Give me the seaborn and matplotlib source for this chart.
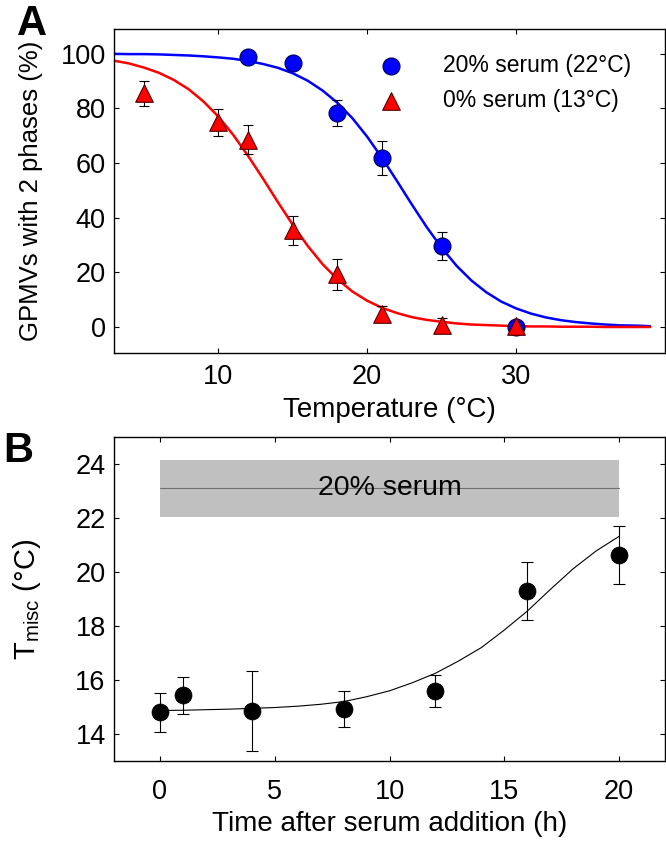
import numpy as np
import pandas as pd
import matplotlib
matplotlib.use('Agg')
import matplotlib.pyplot as plt
import seaborn as sns

# ---- panel A: GPMVs with 2 phases vs temperature ----
temp_serum = [12, 15, 18, 21, 25, 30]
phase_serum = [98.6, 96.4, 78.4, 61.9, 29.5, 0.0]
err_serum = [1.0, 1.0, 4.8, 6.3, 5.1, 1.0]

temp_noserum = [5, 10, 12, 15, 18, 21, 25, 30]
phase_noserum = [85.4, 74.8, 68.4, 35.3, 19.2, 4.8, 0.7, 0.5]
err_noserum = [4.5, 5.0, 5.3, 5.2, 5.6, 3.0, 2.5, 1.0]

# fitted curves, every 1 degC
temp_fit = list(range(3, 40))
fit_serum = [99.9, 99.8, 99.8, 99.7, 99.5, 99.3, 99.0, 98.6, 98.1, 97.3,
             96.2, 94.8, 92.8, 90.1, 86.5, 82.0, 76.4, 69.6, 61.8, 53.4,
             44.8, 36.5, 29.0, 22.4, 17.0, 12.7, 9.3, 6.8, 4.9, 3.5,
             2.5, 1.8, 1.3, 0.9, 0.6, 0.5, 0.3]
fit_noserum = [97.4, 96.4, 94.9, 93.0, 90.4, 87.0, 82.5, 77.0, 70.3, 62.6,
               54.3, 45.7, 37.4, 29.7, 23.0, 17.5, 13.0, 9.6, 7.0, 5.1,
               3.6, 2.6, 1.9, 1.3, 0.9, 0.7, 0.5, 0.3, 0.2, 0.2,
               0.1, 0.1, 0.1, 0.0, 0.0, 0.0, 0.0]

labels_a = ['20% serum (22\u00b0C)', '0% serum (13\u00b0C)']

# ---- panel B: Tmisc vs time after serum addition ----
hours = [0, 1, 4, 8, 12, 16, 20]
tmisc = [14.8, 15.43, 14.85, 14.94, 15.59, 19.29, 20.62]
tmisc_err = [0.73, 0.68, 1.48, 0.67, 0.6, 1.08, 1.07]

hours_fit = list(range(0, 21))
tmisc_fit = [14.87, 14.88, 14.9, 14.92, 14.95, 14.98, 15.03, 15.1, 15.2, 15.38,
             15.6, 15.9, 16.25, 16.7, 17.2, 17.85, 18.55, 19.35, 20.12, 20.78,
             21.32]

band_hours = [0, 20]
band_mid = [23.1, 23.1]
band_low = 22.05
band_high = 24.15
band_label = '20% serum'

sns.set_theme(style='ticks')
plt.rcParams['font.family'] = ['Liberation Sans', 'DejaVu Sans']
plt.rcParams['mathtext.fontset'] = 'custom'
plt.rcParams['mathtext.rm'] = 'Liberation Sans'
plt.rcParams['mathtext.it'] = 'Liberation Sans'
plt.rcParams['axes.linewidth'] = 1.0
plt.rcParams['axes.edgecolor'] = 'black'
plt.rcParams['text.color'] = 'black'
plt.rcParams['axes.labelcolor'] = 'black'
plt.rcParams['xtick.color'] = 'black'
plt.rcParams['ytick.color'] = 'black'

fig = plt.figure(figsize=(6.66, 8.42), dpi=100)
axA = fig.add_axes([0.1712, 0.5808, 0.8273, 0.3848])
axB = fig.add_axes([0.1712, 0.0962, 0.8273, 0.3848])

# panel A
sns.lineplot(x=temp_fit, y=fit_serum, color='#0000ff', lw=1.8, ax=axA, zorder=2)
sns.lineplot(x=temp_fit, y=fit_noserum, color='#ff0000', lw=1.8, ax=axA, zorder=2)
axA.errorbar(temp_serum, phase_serum, yerr=err_serum, fmt='none', ecolor='black',
             elinewidth=0.8, capsize=3.3, capthick=0.8, zorder=3)
axA.errorbar(temp_noserum, phase_noserum, yerr=err_noserum, fmt='none', ecolor='black',
             elinewidth=0.8, capsize=3.3, capthick=0.8, zorder=3)
sns.scatterplot(x=temp_serum, y=phase_serum, marker='o', s=150, color='#0000ff',
                edgecolor='#000050', linewidth=0.8, ax=axA, zorder=4, label=labels_a[0])
sns.scatterplot(x=temp_noserum, y=phase_noserum, marker='^', s=160, color='#ff0000',
                edgecolor='#500000', linewidth=0.8, ax=axA, zorder=5, label=labels_a[1])

axA.set_xlim(3, 40)
axA.set_ylim(-9.5, 109)
axA.set_xticks([10, 20, 30])
axA.set_yticks([0, 20, 40, 60, 80, 100])
axA.set_xlabel('Temperature (\u00b0C)', fontsize=20, labelpad=5)
axA.set_ylabel('GPMVs with 2 phases (%)', fontsize=18.5)
axA.yaxis.set_label_coords(-0.128, 0.5)
axA.legend(loc='upper left', bbox_to_anchor=(0.484, 0.922), frameon=False, fontsize=16.5,
           handlelength=0.91, handletextpad=1.82, borderpad=0, borderaxespad=0,
           labelspacing=0.5)

# panel B
axB.fill_between(band_hours, band_low, band_high, color='#c0c0c0', lw=0, zorder=1)
sns.lineplot(x=band_hours, y=band_mid, color='#707070', lw=0.8, ax=axB, zorder=2)
axB.text(np.mean(band_hours), band_mid[0], band_label, ha='center', va='center',
         fontsize=20.5, zorder=3)
sns.lineplot(x=hours_fit, y=tmisc_fit, color='black', lw=0.8, ax=axB, zorder=2)
axB.errorbar(hours, tmisc, yerr=tmisc_err, fmt='none', ecolor='black',
             elinewidth=0.8, capsize=4, capthick=0.8, zorder=3)
sns.scatterplot(x=hours, y=tmisc, marker='o', s=150, color='black',
                edgecolor='black', linewidth=0.5, ax=axB, zorder=4)

axB.set_xlim(-2, 22)
axB.set_ylim(13, 25)
axB.set_xticks([0, 5, 10, 15, 20])
axB.set_yticks([14, 16, 18, 20, 22, 24])
axB.set_xlabel('Time after serum addition (h)', fontsize=20, labelpad=4)
axB.set_ylabel('T$_{\\mathrm{misc}}$ (\u00b0C)', fontsize=21)
axB.yaxis.set_label_coords(-0.128, 0.5)

for ax in (axA, axB):
    ax.tick_params(direction='in', length=3.6, width=0.8, top=True, right=True,
                   labelsize=19.5, colors='black')
    ax.tick_params(axis='y', pad=6)
    for sp in ax.spines.values():
        sp.set_visible(True)
        sp.set_color('black')
axA.tick_params(axis='x', pad=8)
axB.tick_params(axis='x', pad=13)

fig.text(17 / 666, 1 - 35 / 842, 'A', fontsize=30, fontweight='bold', ha='left', va='baseline')
fig.text(3 / 666, 1 - 462 / 842, 'B', fontsize=30, fontweight='bold', ha='left', va='baseline')

fig.savefig('out.png', dpi=100)
